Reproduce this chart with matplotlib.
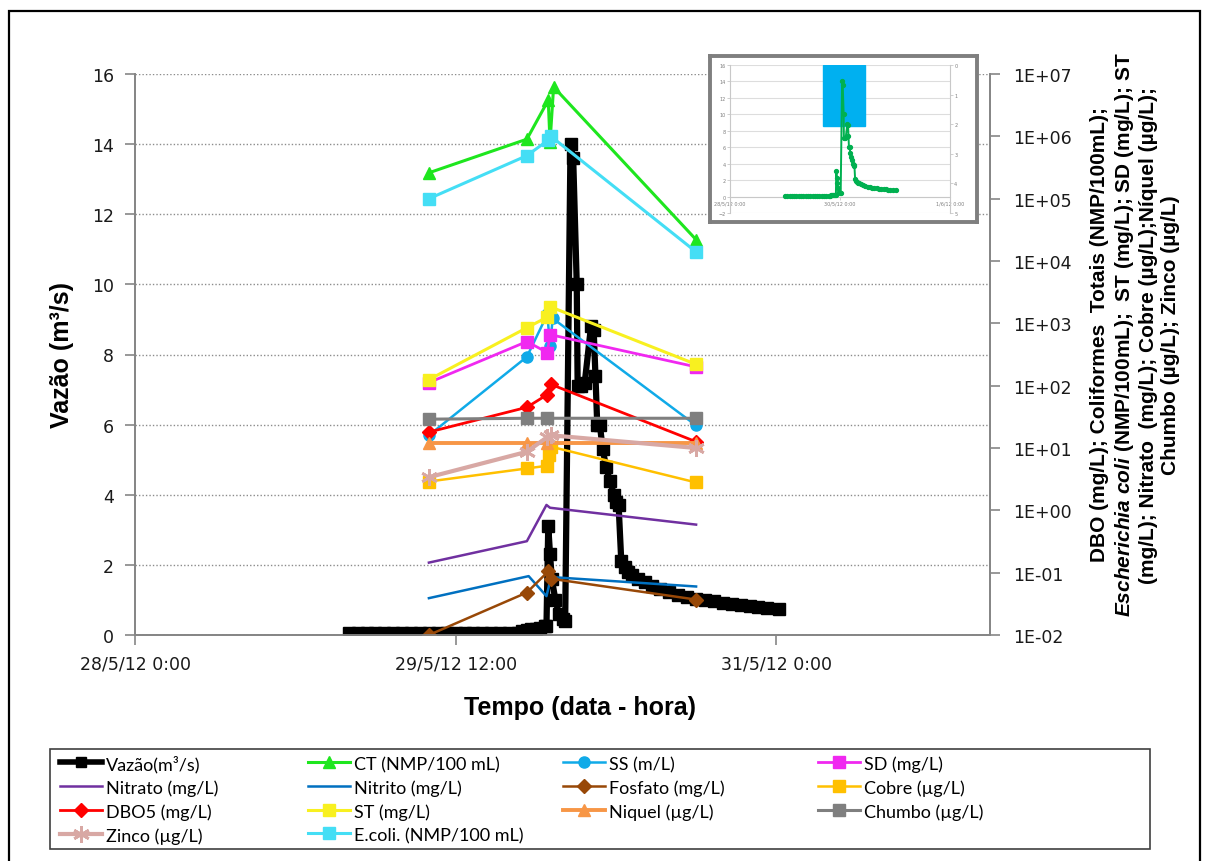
import matplotlib
matplotlib.use('Agg')
import matplotlib.pyplot as plt
from matplotlib.patches import Rectangle
from matplotlib.lines import Line2D

plt.rcParams['font.family'] = ['DejaVu Sans']
plt.rcParams['mathtext.fontset'] = 'custom'
plt.rcParams['mathtext.it'] = 'Liberation Sans:italic:bold'
plt.rcParams['mathtext.rm'] = 'Liberation Sans:bold'

# time in hours counted from 28/5/12 0:00
x_ticks = [0, 36, 72]
x_labels = ['28/5/12 0:00', '29/5/12 12:00', '31/5/12 0:00']
inset_ticks = [0, 48, 96]
inset_labels = ['28/5/12 0:00', '30/5/12 0:00', '1/6/12 0:00']

# flow (m3/s)
vazao_t = [24, 25, 26, 27, 28, 29, 30, 31, 32, 33, 34, 35, 36, 37, 38, 39, 40, 41, 42,
           43, 43.5, 44, 44.5, 45, 45.5, 46, 46.2, 46.4, 46.6, 46.8, 47.2, 47.6, 48.0, 48.3,
           48.9, 49.2, 49.6, 49.7, 50.1, 50.5, 51.2, 51.5, 51.7, 51.9, 52.2, 52.5, 52.9,
           53.3, 53.8, 54.0, 54.3, 54.6, 55.0, 55.4, 55.8, 56.5, 57.3, 58.1, 59, 60, 61,
           62, 63, 64, 65, 66, 67, 68, 69, 70, 71, 72.3]
vazao_v = [0.05, 0.05, 0.05, 0.05, 0.05, 0.05, 0.05, 0.05, 0.05, 0.05, 0.05, 0.05, 0.05,
           0.05, 0.05, 0.05, 0.05, 0.05, 0.05,
           0.06, 0.12, 0.15, 0.17, 0.18, 0.2, 0.25, 0.25, 3.1, 2.3, 1.6, 1.0, 0.6, 0.45, 0.4,
           14.0, 13.6, 10.0, 7.1, 7.1, 7.2, 8.8, 8.7, 7.4, 6.0, 6.0, 5.3, 4.8,
           4.4, 4.0, 3.8, 3.7, 2.1, 1.95, 1.8, 1.7, 1.6, 1.5, 1.4, 1.3, 1.22, 1.13,
           1.08, 1.04, 1.0, 0.96, 0.92, 0.89, 0.86, 0.83, 0.8, 0.78, 0.75]

# water quality samples (right log axis)
ct_t = [33, 44, 46.4, 46.6, 47.0, 63]
ct_v = [2.6e5, 9.0e5, 3.8e6, 8.0e5, 6.2e6, 2.2e4]
ss_t = [33, 44, 46.3, 46.6, 46.9, 63]
ss_v = [16, 290, 1.4e3, 4.3e2, 1.2e3, 23]
sd_t = [33, 44, 46.3, 46.6, 63]
sd_v = [112, 510, 340, 660, 200]
nitrato_t = [33, 44, 46.2, 46.6, 63]
nitrato_v = [0.145, 0.32, 1.22, 1.1, 0.59]
nitrito_t = [33, 44.2, 46.2, 46.4, 46.7, 63]
nitrito_v = [0.039, 0.088, 0.042, 0.055, 0.085, 0.06]
fosfato_t = [33, 44, 46.4, 46.7, 63]
fosfato_v = [0.01, 0.048, 0.105, 0.08, 0.037]
cobre_t = [33, 44, 46.3, 46.5, 46.7, 63]
cobre_v = [2.9, 4.7, 5.2, 7.8, 10.5, 2.8]
dbo5_t = [33, 44, 46.3, 46.7, 63]
dbo5_v = [18, 45, 72, 105, 12.6]
st_t = [33, 44, 46.3, 46.6, 63]
st_v = [125, 850, 1.26e3, 1.85e3, 220]
niquel_t = [33, 44, 46.3, 63]
niquel_v = [12, 12, 12, 12]
chumbo_t = [33, 44, 46.3, 63]
chumbo_v = [29, 30, 30, 30]
zinco_t = [33, 44, 46.3, 46.7, 63]
zinco_v = [3.4, 8.7, 15, 16, 10]
ecoli_t = [33, 44, 46.4, 46.7, 63]
ecoli_v = [1.0e5, 4.9e5, 8.7e5, 1.0e6, 1.4e4]

W, H = 1207, 862
fig = plt.figure(figsize=(W / 100, H / 100), dpi=100)
axis_gray = '#868686'

ax = fig.add_axes([135 / W, 1 - 636 / H, (990 - 135) / W, (636 - 75) / H])
ax2 = ax.twinx()

ax.plot(vazao_t, vazao_v, color='black', lw=4.5, marker='s', ms=8.5, zorder=3)
ax.set_xlim(0, 96)
ax.set_ylim(0, 16)
ax.set_yticks(range(0, 17, 2))
ax.set_xticks(x_ticks)
ax.set_xticklabels(x_labels)
ax.yaxis.grid(True, linestyle=(0, (1, 1.5)), color='#8c8c8c', lw=1)
ax.set_axisbelow(True)

# (label, t, v, colour, marker, markersize, linewidth)
series = [
    ('CT (NMP/100 mL)', ct_t, ct_v, '#1ee61e', '^', 9, 2.2),
    ('SS (m/L)', ss_t, ss_v, '#10aae8', 'o', 8, 1.8),
    ('SD (mg/L)', sd_t, sd_v, '#f028f0', 's', 8, 2.0),
    ('Nitrato (mg/L)', nitrato_t, nitrato_v, '#7030a0', None, 0, 1.8),
    ('Nitrito (mg/L)', nitrito_t, nitrito_v, '#0070c0', None, 0, 1.8),
    ('Fosfato (mg/L)', fosfato_t, fosfato_v, '#984807', 'D', 7, 1.8),
    ('Cobre (µg/L)', cobre_t, cobre_v, '#ffc000', 's', 8, 1.8),
    ('DBO5 (mg/L)', dbo5_t, dbo5_v, '#ff0000', 'D', 7, 2.0),
    ('ST (mg/L)', st_t, st_v, '#f8f020', 's', 9, 2.2),
    ('Niquel (µg/L)', niquel_t, niquel_v, '#f79646', '^', 9, 2.8),
    ('Chumbo (µg/L)', chumbo_t, chumbo_v, '#7f7f7f', 's', 8, 2.2),
    ('Zinco (µg/L)', zinco_t, zinco_v, '#d8a8a4', (6, 2, 0), 12, 3.0),
    ('E.coli. (NMP/100 mL)', ecoli_t, ecoli_v, '#44def5', 's', 9, 2.2),
]
handles = {}
handles['Vazão(m³/s)'] = Line2D([], [], color='black', lw=4, marker='s', ms=7)
for label, t, v, c, m, ms, lw in series:
    ln, = ax2.plot(t, v, color=c, marker=m, ms=ms, lw=lw, mec=c, mew=2 if m == (6, 2, 0) else 1)
    handles[label] = ln

ax2.set_yscale('log')
ax2.set_ylim(1e-2, 1e7)
ax2.set_yticks([10.0 ** k for k in range(-2, 8)])
ax2.set_yticklabels(['1E%+03d' % k if k < 0 else '1E+%02d' % k for k in range(-2, 8)])
ax2.minorticks_off()

for a in (ax, ax2):
    for s in a.spines.values():
        s.set_color(axis_gray)
        s.set_linewidth(1.3)
    a.spines['top'].set_visible(False)
    a.tick_params(direction='out', length=7, width=1.2, color=axis_gray,
                  labelsize=12.5, labelcolor='#1a1a1a')
ax.tick_params(axis='y', pad=8)
ax.tick_params(axis='x', pad=7)
ax2.tick_params(axis='y', pad=10)

fig.text(62 / W, 1 - 355 / H, 'Vazão (m³/s)', rotation=90, fontsize=18, fontweight='bold',
         family='Liberation Sans', ha='center', va='center')
fig.text(580 / W, 1 - 708 / H, 'Tempo (data - hora)', fontsize=18, fontweight='bold',
         family='Liberation Sans', ha='center', va='center')

right_label = ('DBO (mg/L); Coliformes  Totais (NMP/100mL);\n'
               r'$\mathit{Escherichia\ coli}$ (NMP/100mL);  ST (mg/L); SD (mg/L); ST' '\n'
               '(mg/L); Nitrato  (mg/L); Cobre (µg/L);Níquel (µg/L);\n'
               'Chumbo (µg/L); Zinco (µg/L)')
fig.text(1135 / W, 1 - 335 / H, right_label, rotation=90, ha='center', va='center',
         multialignment='center', fontsize=15, fontweight='bold', family='Liberation Sans',
         linespacing=1.2)

# small overview chart in the upper right corner
frame = fig.add_axes([710 / W, 1 - 223 / H, 267 / W, 166 / H], zorder=5)
frame.set_xticks([])
frame.set_yticks([])
for s in frame.spines.values():
    s.set_color('#7f7f7f')
    s.set_linewidth(2.8)

ins = fig.add_axes([730 / W, 1 - 214 / H, 220 / W, 148 / H], zorder=6)
ins.patch.set_alpha(0)
ins.add_patch(Rectangle((40.4, 8.6), 18.3, 7.4, color='#00b0f0', zorder=1))
ins.plot(vazao_t, vazao_v, color='#00b050', lw=1.4, marker='o', ms=2.8, zorder=3)
ins.set_xlim(0, 96)
ins.set_ylim(-2, 16)
ins.set_yticks(range(-2, 17, 2))
ins.set_xticks(inset_ticks)
ins.set_xticklabels(inset_labels)
ins.yaxis.grid(True, color='#dddddd', lw=0.8)
ins.set_axisbelow(True)
ins.spines['bottom'].set_position(('data', 0))
ins.spines['top'].set_visible(False)
ins.spines['right'].set_visible(False)
for s in ('left', 'bottom'):
    ins.spines[s].set_color('#c8c8c8')
    ins.spines[s].set_linewidth(0.8)
ins.tick_params(length=2, width=0.6, color='#c8c8c8', labelsize=3.5, labelcolor='#7f7f7f', pad=1)
ins2 = ins.twinx()
ins2.set_ylim(5, 0)
ins2.set_yticks(range(0, 6))
for s in ins2.spines.values():
    s.set_visible(False)
ins2.spines['right'].set_visible(True)
ins2.spines['right'].set_color('#c8c8c8')
ins2.spines['right'].set_linewidth(0.8)
ins2.tick_params(length=2, width=0.6, color='#c8c8c8', labelsize=3.5, labelcolor='#7f7f7f', pad=1)

# legend: four columns laid out in one box
columns = [
    ['Vazão(m³/s)', 'Nitrato (mg/L)', 'DBO5 (mg/L)', 'Zinco (µg/L)'],
    ['CT (NMP/100 mL)', 'Nitrito (mg/L)', 'ST (mg/L)', 'E.coli. (NMP/100 mL)'],
    ['SS (m/L)', 'Fosfato (mg/L)', 'Niquel (µg/L)'],
    ['SD (mg/L)', 'Cobre (µg/L)', 'Chumbo (µg/L)'],
]
col_x = [60, 308, 563, 818]
for labels, x0 in zip(columns, col_x):
    fig.legend([handles[k] for k in labels], labels, loc='upper left',
               bbox_to_anchor=(x0 / W, 1 - 756 / H), borderaxespad=0, borderpad=0,
               frameon=False, prop={'family': ['Lato', 'Liberation Sans'], 'size': 13},
               handlelength=2.3, handleheight=1.0, handletextpad=0.25, labelspacing=0.36)
fig.add_artist(Rectangle((50 / W, 1 - 850 / H), 1100 / W, 100 / H, transform=fig.transFigure,
                         fill=False, edgecolor='#404040', lw=1.2))

fig.add_artist(Rectangle((9 / W, -0.01), (1200 - 9) / W, (862 - 12) / H + 0.01,
                         transform=fig.transFigure, fill=False, edgecolor='black', lw=1.6))

fig.savefig('out.png', dpi=100)
